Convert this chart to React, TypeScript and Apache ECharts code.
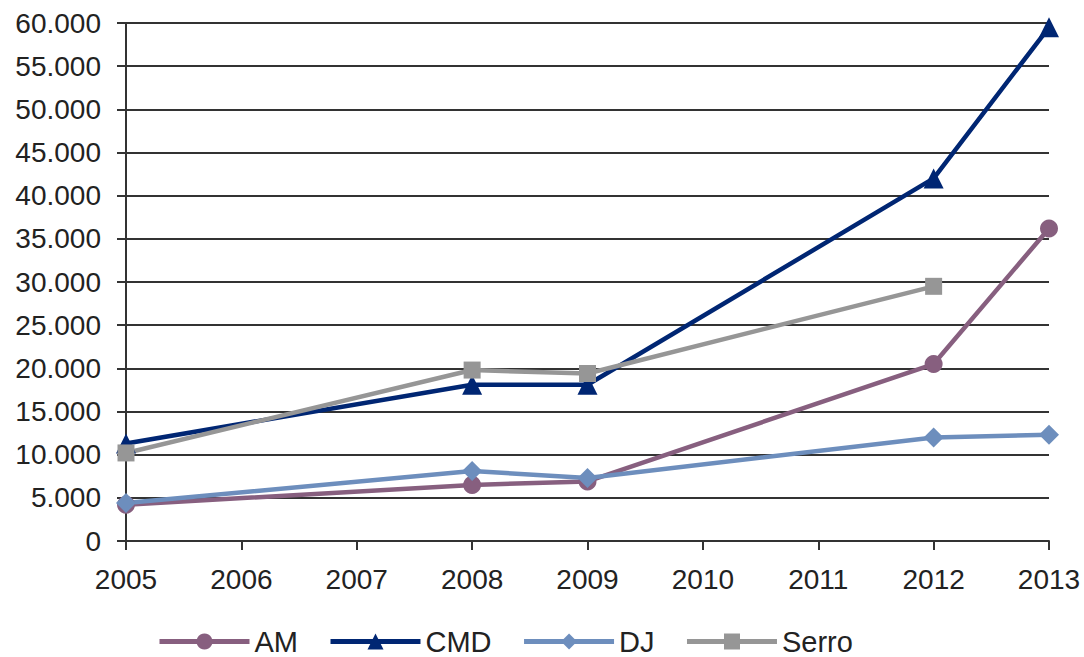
import React, { useEffect, useRef } from "react";
import * as echarts from "echarts";

const years = [2005, 2008, 2009, 2012, 2013];
const amValues = [4200, 6500, 6900, 20500, 36200];
const cmdValues = [11300, 18100, 18100, 42000, 59500];
const djValues = [4400, 8100, 7300, 12000, 12300];
const serroYears = [2005, 2008, 2009, 2012];
const serroValues = [10200, 19800, 19400, 29500];
const seriesNames = ["AM", "CMD", "DJ", "Serro"];
const colors = ["#875f7f", "#002673", "#6d8ebd", "#969696"];

const fmt = (v: number) => {
  const s = String(Math.round(v));
  return s.replace(/\B(?=(\d{3})+(?!\d))/g, ".");
};

export default function App() {
  const ref = useRef<HTMLDivElement>(null);
  useEffect(() => {
    document.body.style.margin = "0";
    const chart = echarts.init(ref.current!, undefined, { renderer: "svg" });
    const font = "'Liberation Sans', Arial, sans-serif";
    const mk = (name: string, xs: number[], ys: number[], color: string, symbol: string, size: number) => ({
      name,
      type: "line",
      data: xs.map((x, i) => [x, ys[i]]),
      symbol,
      symbolSize: size,
      showAllSymbol: true,
      lineStyle: { color, width: 4.5 },
      itemStyle: { color, opacity: 1 },
      emphasis: { disabled: true },
      z: 3,
    });
    chart.setOption({
      animation: false,
      backgroundColor: "#ffffff",
      textStyle: { fontFamily: font },
      grid: { left: 126, right: 35, top: 23, bottom: 116, containLabel: false },
      legend: {
        left: 157,
        top: 627,
        padding: 0,
        itemWidth: 90,
        itemHeight: 20,
        itemGap: 30,
        lineStyle: { width: 5 },
        textStyle: { fontSize: 29, lineHeight: 28, color: "#222", fontFamily: font },
        data: seriesNames,
      },
      xAxis: {
        type: "value",
        min: 2005,
        max: 2013,
        interval: 1,
        axisLine: { show: true, lineStyle: { color: "#333", width: 2 } },
        axisTick: { show: true, length: 9, lineStyle: { color: "#333", width: 2 } },
        axisLabel: { fontSize: 28, color: "#222", margin: 24, formatter: (v: number) => String(v) },
        splitLine: { show: false },
      },
      yAxis: {
        type: "value",
        min: 0,
        max: 60000,
        interval: 5000,
        axisLine: { show: true, lineStyle: { color: "#333", width: 2 } },
        axisTick: { show: true, length: 9, lineStyle: { color: "#333", width: 2 } },
        axisLabel: { fontSize: 28, color: "#222", margin: 25, formatter: fmt },
        splitLine: { show: true, lineStyle: { color: "#333", width: 2 } },
      },
      series: [
        mk("AM", years, amValues, colors[0], "circle", 18),
        mk("CMD", years, cmdValues, colors[1], "triangle", 20),
        mk("DJ", years, djValues, colors[2], "diamond", 20),
        mk("Serro", serroYears, serroValues, colors[3], "rect", 17),
      ],
    });
    return () => chart.dispose();
  }, []);
  return <div ref={ref} style={{ position: "fixed", left: 0, top: 0, width: 1084, height: 657 }} />;
}
